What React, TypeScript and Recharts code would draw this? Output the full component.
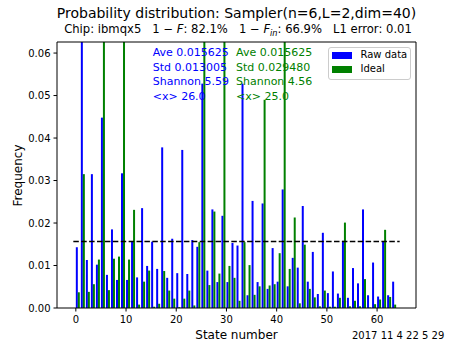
import React from 'react';
import { ComposedChart, Bar, XAxis, YAxis, ReferenceLine, Legend } from 'recharts';

const FONT = '"DejaVu Sans", sans-serif';

const states = [
  0, 1, 2, 3, 4, 5, 6, 7, 8, 9, 10, 11, 12, 13, 14, 15,
  16, 17, 18, 19, 20, 21, 22, 23, 24, 25, 26, 27, 28, 29, 30, 31,
  32, 33, 34, 35, 36, 37, 38, 39, 40, 41, 42, 43, 44, 45, 46, 47,
  48, 49, 50, 51, 52, 53, 54, 55, 56, 57, 58, 59, 60, 61, 62, 63,
];

const rawData = [
  0.0143, 0.0735, 0.0113, 0.0315, 0.0102, 0.0448, 0.0078, 0.0185,
  0.0066, 0.0317, 0.0066, 0.0156, 0.0072, 0.0235, 0.0099, 0.0156,
  0.0092, 0.0378, 0.0071, 0.0163, 0.0082, 0.0372, 0.0080, 0.0160,
  0.0144, 0.0528, 0.0088, 0.0232, 0.0061, 0.0217, 0.0061, 0.0153,
  0.0147, 0.0528, 0.0030, 0.0252, 0.0061, 0.0246, 0.0045, 0.0141,
  0.0062, 0.0279, 0.0051, 0.0118, 0.0095, 0.0240, 0.0062, 0.0132,
  0.0033, 0.0177, 0.0035, 0.0086, 0.0034, 0.0158, 0.0024, 0.0094,
  0.0058, 0.0232, 0.0030, 0.0107, 0.0027, 0.0156, 0.0030, 0.0062,
];

const idealData = [
  0.0037, 0.0315, 0.0038, 0.0056, 0.0114, 0.1150, 0.0042, 0.0116,
  0.0121, 0.1050, 0.0114, 0.0231, 0.0008, 0.0062, 0.0088, 0.0003,
  0.0010, 0.0087, 0.0041, 0.0022, 0.0002, 0.0022, 0.0041, 0.0006,
  0.0155, 0.1200, 0.0054, 0.0227, 0.0081, 0.1000, 0.0099, 0.0071,
  0.0017, 0.0155, 0.0101, 0.0031, 0.0051, 0.0490, 0.0053, 0.0056,
  0.0129, 0.1100, 0.0092, 0.0213, 0.0011, 0.0149, 0.0045, 0.0025,
  0.0004, 0.0041, 0.0003, 0.0003, 0.0024, 0.0201, 0.0004, 0.0017,
  0.0004, 0.0068, 0.0001, 0.0009, 0.0020, 0.0184, 0.0026, 0.0008,
];

const seriesOrder = ['raw', 'ideal'];
const xTicks = [0, 10, 20, 30, 40, 50, 60];
const yTicks = [0, 0.01, 0.02, 0.03, 0.04, 0.05, 0.06];
const meanLevel = 0.015625;

const rawStats = ['Ave 0.015625', 'Std 0.013005', 'Shannon 5.59', '<x> 26.0'];
const idealStats = ['Ave 0.015625', 'Std 0.029480', 'Shannon 4.56', '<x> 25.0'];

const X_DOMAIN: [number, number] = [-3.75, 67.75];
const Y_DOMAIN: [number, number] = [0, 0.0626];
const BAR_SHIFT = 0.3;

const chartData = states.map((s, i) => ({
  pos: s + BAR_SHIFT,
  raw: rawData[i],
  ideal: idealData[i],
}));

const renderLegend = (props: any) => {
  const payload = [...(props.payload || [])].sort(
    (a: any, b: any) => seriesOrder.indexOf(a.dataKey) - seriesOrder.indexOf(b.dataKey)
  );
  return (
    <div
      style={{
        position: 'relative',
        boxSizing: 'border-box',
        width: 83,
        height: 33,
        border: '1px solid #cccccc',
        borderRadius: 3,
        background: 'rgba(255,255,255,0.8)',
        fontFamily: FONT,
        fontSize: 10,
        color: '#000',
      }}
    >
      {payload.map((entry: any, idx: number) => (
        <React.Fragment key={idx}>
          <div
            style={{
              position: 'absolute',
              left: 3,
              top: 4 + idx * 14.4,
              width: 20,
              height: 7,
              background: entry.color,
            }}
          />
          <div
            style={{
              position: 'absolute',
              left: 31.5,
              top: 1.5 + idx * 14.4,
              lineHeight: '12px',
              whiteSpace: 'nowrap',
            }}
          >
            {entry.value}
          </div>
        </React.Fragment>
      ))}
    </div>
  );
};

export default function App() {
  const tickStyle = { fill: '#000', fontSize: 10, fontFamily: FONT };
  return (
    <div style={{ position: 'absolute', left: 0, top: 0, width: 463, height: 347, background: '#fff' }}>
      <ComposedChart
        width={463}
        height={347}
        data={chartData}
        margin={{ top: 42, right: 47, bottom: 0, left: 0 }}
        barGap={0}
      >
        <XAxis
          type="number"
          dataKey="pos"
          domain={X_DOMAIN}
          ticks={xTicks}
          allowDataOverflow
          interval={0}
          height={39}
          tick={tickStyle}
          tickLine={{ stroke: '#000' }}
          axisLine={{ stroke: '#000' }}
          tickSize={3.5}
          tickMargin={4}
        />
        <YAxis
          type="number"
          domain={Y_DOMAIN}
          ticks={yTicks}
          allowDataOverflow
          interval={0}
          width={57}
          tick={tickStyle}
          tickFormatter={(v: number) => v.toFixed(2)}
          tickLine={{ stroke: '#000' }}
          axisLine={{ stroke: '#000' }}
          tickSize={3.5}
          tickMargin={3}
        />
        <Bar dataKey="raw" name="Raw data" fill="#0000ff" barSize={2} isAnimationActive={false} />
        <Bar dataKey="ideal" name="Ideal" fill="#008000" barSize={2} isAnimationActive={false} />
        <ReferenceLine
          segment={[
            { x: -0.5, y: meanLevel },
            { x: 64.5, y: meanLevel },
          ]}
          stroke="#000"
          strokeWidth={1.5}
          strokeDasharray="5.5 2.4"
        />
        <ReferenceLine y={Y_DOMAIN[1]} stroke="#000" />
        <ReferenceLine x={X_DOMAIN[1]} stroke="#000" />
        <Legend
          layout="vertical"
          align="center"
          verticalAlign="middle"
          content={renderLegend}
          wrapperStyle={{ left: 328, top: 46.5, width: 84, height: 34, margin: 0, padding: 0 }}
        />
      </ComposedChart>
      <svg
        width={463}
        height={347}
        style={{ position: 'absolute', left: 0, top: 0, pointerEvents: 'none' }}
        fontFamily={FONT}
      >
        <text x={236.5} y={18} textAnchor="middle" fontSize={14} fill="#000">
          Probability distribution: Sampler(n=6,L=2,dim=40)
        </text>
        <text x={238} y={33} textAnchor="middle" fontSize={11.6} fill="#000" style={{ whiteSpace: 'pre' }}>
          <tspan>{'Chip: ibmqx5   1 − '}</tspan>
          <tspan fontStyle="italic">F</tspan>
          <tspan>{': 82.1%   1 − '}</tspan>
          <tspan fontStyle="italic">F</tspan>
          <tspan fontStyle="italic" fontSize={8.2} dy={2.5}>in</tspan>
          <tspan dy={-2.5}>{': 66.9%   L1 error: 0.01'}</tspan>
        </text>
        {rawStats.map((s, i) => (
          <text key={'r' + i} x={152.7} y={56 + i * 14.7} fontSize={11} fill="#0000ff">
            {s}
          </text>
        ))}
        {idealStats.map((s, i) => (
          <text key={'g' + i} x={236} y={56 + i * 14.7} fontSize={11} fill="#008000">
            {s}
          </text>
        ))}
        <text
          x={21.5}
          y={175.5}
          textAnchor="middle"
          fontSize={12}
          fill="#000"
          transform="rotate(-90 21.5 175.5)"
        >
          Frequency
        </text>
        <text x={236.5} y={339} textAnchor="middle" fontSize={12} fill="#000">
          State number
        </text>
        <text x={352} y={338.5} fontSize={10} fill="#000">
          2017 11 4 22 5 29
        </text>
      </svg>
    </div>
  );
}
